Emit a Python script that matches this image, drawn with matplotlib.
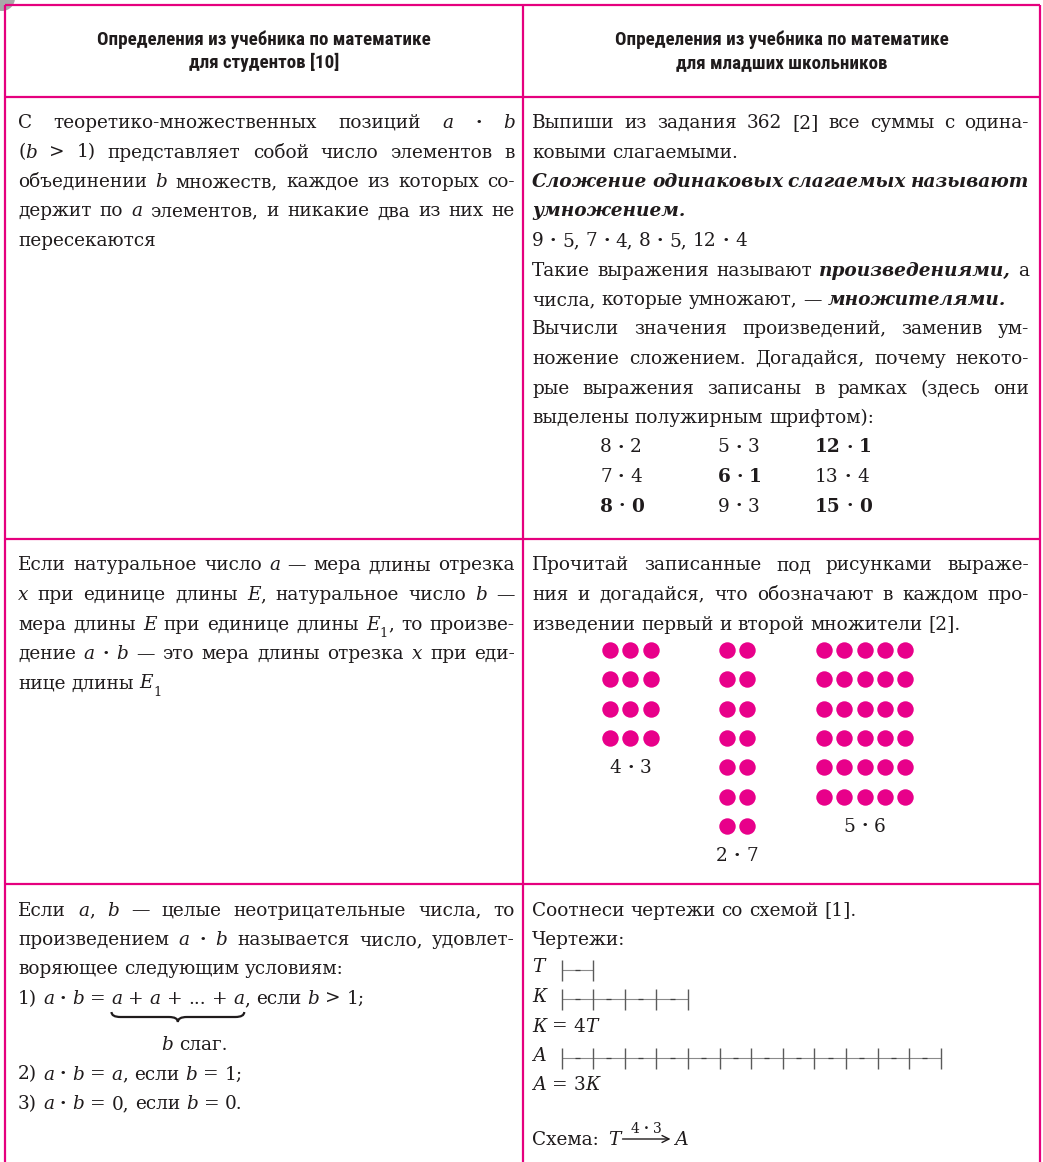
import re
import numpy as np
import matplotlib
matplotlib.use("Agg")
import matplotlib.pyplot as plt
from matplotlib import font_manager
from matplotlib.patches import Circle, PathPatch
from matplotlib.path import Path

# --- СОДЕРЖИМОЕ ТАБЛИЦЫ ---
header_left = ["Определения из учебника по математике", "для студентов [10]"]
header_right = ["Определения из учебника по математике", "для младших школьников"]

# строки: (текст с разметкой, выключка по ширине)
# {i:..} курсив, {bi:..} полужирный курсив, {b:..} полужирный, {s:..} нижний индекс
left_r1 = [
    ("С теоретико-множественных позиций {i:a} · {i:b}", True),
    ("({i:b} > 1) представляет собой число элементов в", True),
    ("объединении {i:b} множеств, каждое из которых со-", True),
    ("держит по {i:a} элементов, и никакие два из них не", True),
    ("пересекаются", False),
]
right_r1 = [
    ("Выпиши из задания 362 [2] все суммы с одина-", True),
    ("ковыми слагаемыми.", False),
    ("{bi:Сложение одинаковых слагаемых называют}", True),
    ("{bi:умножением.}", False),
    ("9 · 5, 7 · 4, 8 · 5, 12 · 4", False),
    ("Такие выражения называют {bi:произведениями,} а", True),
    ("числа, которые умножают, — {bi:множителями.}", False),
    ("Вычисли значения произведений, заменив ум-", True),
    ("ножение сложением. Догадайся, почему некото-", True),
    ("рые выражения записаны в рамках (здесь они", True),
    ("выделены полужирным шрифтом):", False),
]
products = [["8 · 2", "5 · 3", "12 · 1"],
            ["7 · 4", "6 · 1", "13 · 4"],
            ["8 · 0", "9 · 3", "15 · 0"]]
products_bold = [[False, False, True],
                 [False, True, False],
                 [True, False, True]]

left_r2 = [
    ("Если натуральное число {i:a} — мера длины отрезка", True),
    ("{i:x} при единице длины {i:E}, натуральное число {i:b} —", True),
    ("мера длины {i:E} при единице длины {i:E}{s:1}, то произве-", True),
    ("дение {i:a} · {i:b} — это мера длины отрезка {i:x} при еди-", True),
    ("нице длины {i:E}{s:1}", False),
]
right_r2 = [
    ("Прочитай записанные под рисунками выраже-", True),
    ("ния и догадайся, что обозначают в каждом про-", True),
    ("изведении первый и второй множители [2].", False),
]
dot_rows = [4, 7, 6]
dot_cols = [3, 2, 5]
dot_labels = ["4 · 3", "2 · 7", "5 · 6"]

left_r3 = [
    ("Если {i:a}, {i:b} — целые неотрицательные числа, то", True),
    ("произведением {i:a} · {i:b} называется число, удовлет-", True),
    ("воряющее следующим условиям:", False),
    ("1) {i:a} · {i:b} = {i:a} + {i:a} + ... + {i:a}, если {i:b} > 1;", False),
]
brace_label = "{i:b} слаг."
left_r3_tail = [
    "2) {i:a} · {i:b} = {i:a}, если {i:b} = 1;",
    "3) {i:a} · {i:b} = 0, если {i:b} = 0.",
]
right_r3 = ["Соотнеси чертежи со схемой [1].", "Чертежи:"]
seg_names = ["Т", "К", "А"]
seg_units = [1, 4, 12]
seg_relations = [None, "{i:К} = 4{i:Т}", "{i:А} = 3{i:К}"]
scheme_text = ["Схема:", "Т", "4 · 3", "А"]

# --- ОФОРМЛЕНИЕ ---
W, H = 1043, 1162
PINK = "#E5007E"
DOT = "#E8008A"
INK = "#1f1b1c"
SERIF = "DejaVu Serif"

borders_y = [5, 96.5, 539, 884]
col_x = [5, 523, 1040]
LX0, LX1 = 18, 515
RX0, RX1 = 532, 1029
PITCH = 29.5
FIRST = 31.5

fig = plt.figure(figsize=(W / 100, H / 100), dpi=100)
ax = fig.add_axes([0, 0, 1, 1])
ax.set_xlim(0, W)
ax.set_ylim(H, 0)
ax.axis("off")
renderer = fig.canvas.get_renderer()

STYLES = {
    "r": dict(family=SERIF),
    "i": dict(family=SERIF, style="italic"),
    "b": dict(family=SERIF, weight="bold"),
    "bi": dict(family=SERIF, style="italic", weight="bold"),
    "s": dict(family=SERIF),
}

_cache = {}


def text_width(s, size, **kw):
    key = (s, size, tuple(sorted(kw.items())))
    if key not in _cache:
        t = ax.text(0, 0, s, fontsize=size, **kw)
        _cache[key] = t.get_window_extent(renderer).width
        t.remove()
    return _cache[key]


def piece_size(st, size):
    return size * 0.7 if st == "s" else size


def style_kw(t, st):
    kw = dict(STYLES[st])
    if t == "·":  # знак умножения в книге — жирная точка
        kw["weight"] = "bold"
    return kw


def piece_width(t, st, size):
    return text_width(t, piece_size(st, size), **style_kw(t, st))


def space_width(size):
    return text_width("н н", size, family=SERIF) - text_width("нн", size, family=SERIF)


def put(t, st, x, y, size):
    dy = 0.38 * size * 100 / 72 if st == "s" else 0
    ax.text(x, y + dy, t, fontsize=piece_size(st, size), ha="left", va="baseline",
            color=INK, clip_on=False, **style_kw(t, st))


def parse(markup):
    runs = []
    for m in re.finditer(r"\{(\w+):([^}]*)\}|([^{]+)", markup):
        if m.group(1):
            runs.append((m.group(2), m.group(1)))
        else:
            runs.append((m.group(3), "r"))
    words = [[]]
    for txt, st in runs:
        for k, part in enumerate(txt.split(" ")):
            if k > 0:
                words.append([])
            if part:
                words[-1].append((part, st))
    return [w for w in words if w]


def markup_width(markup, size):
    words = parse(markup)
    total = sum(piece_width(t, st, size) for w in words for t, st in w)
    return total + (len(words) - 1) * space_width(size)


def draw_line(markup, x0, x1, y, justify=False, size=None):
    size = size or BODY
    words = parse(markup)
    widths = [[piece_width(t, st, size) for t, st in w] for w in words]
    total = sum(sum(ws) for ws in widths)
    sp = space_width(size)
    n = len(words)
    gap = sp
    if justify and n > 1:
        gap = (x1 - x0 - total) / (n - 1)
    # если строка не влезает — немного уменьшаем кегль
    if n > 1 and justify and gap < 0.45 * sp:
        k = (x1 - x0) / (total + (n - 1) * 0.5 * sp)
        return draw_line(markup, x0, x1, y, justify, size * k)
    x = x0
    ext = []
    for w, ws in zip(words, widths):
        pieces = []
        for (t, st), wd in zip(w, ws):
            put(t, st, x, y, size)
            pieces.append((x, x + wd))
            x += wd
        ext.append(pieces)
        x += gap
    return ext


def draw_centered(markup, cx, y, size=None):
    size = size or BODY
    draw_line(markup, cx - markup_width(markup, size) / 2, W, y, False, size)


def draw_block(lines, x0, x1, y0):
    out = []
    for k, (markup, just) in enumerate(lines):
        out.append(draw_line(markup, x0, x1, y0 + k * PITCH, just))
    return out


# кегль основного текста подбираем по ширине слова «пересекаются»
BODY = 13.0 * 138 / text_width("пересекаются", 13.0, family=SERIF)

# шрифт заголовка — узкий гротеск, если есть
available = {f.name for f in font_manager.fontManager.ttflist}
HEAD = "DejaVu Sans"
for cand in ["Liberation Sans Narrow", "Roboto Condensed", "Open Sans Condensed", "Roboto"]:
    if cand in available:
        HEAD = cand
        break
HEAD_SIZE = 10 * 332 / text_width(header_left[0], 10, family=HEAD, weight="bold")

# --- СЕТКА ТАБЛИЦЫ ---
ax.add_patch(Circle((2, -2), 13, facecolor="#a8a8a8", edgecolor="none", zorder=0))
ax.hlines(borders_y, col_x[0], col_x[-1], color=PINK, lw=1.6, zorder=3)
ax.vlines(col_x, borders_y[0], H, color=PINK, lw=1.6, zorder=3)

# --- ЗАГОЛОВКИ ---
for cx, lines in [((col_x[0] + col_x[1]) / 2, header_left),
                  ((col_x[1] + col_x[2]) / 2, header_right)]:
    for k, s in enumerate(lines):
        ax.text(cx, 45 + k * 23, s, fontsize=HEAD_SIZE, family=HEAD, weight="bold",
                ha="center", va="baseline", color=INK)

# --- СТРОКА 1 ---
y1 = borders_y[1] + FIRST
draw_block(left_r1, LX0, LX1, y1)
draw_block(right_r1, RX0, RX1, y1)
prod_x = [600, 717.5, 815]
for r, (row, bold) in enumerate(zip(products, products_bold)):
    yy = y1 + (len(right_r1) + r) * PITCH
    for c, (s, b) in enumerate(zip(row, bold)):
        cell = " ".join("{b:%s}" % p for p in s.split()) if b else s
        draw_line(cell, prod_x[c], RX1, yy)

# --- СТРОКА 2 ---
y2 = borders_y[2] + FIRST
draw_block(left_r2, LX0, LX1, y2)
draw_block(right_r2, RX0, RX1, y2)
group_x = [610, 727, 824]
dot_dx, dot_dy = 20.3, 29.3
dots_top = y2 + len(right_r2) * PITCH - 9
for gx, nr, nc, lab in zip(group_x, dot_rows, dot_cols, dot_labels):
    xs, ys = np.meshgrid(gx + dot_dx * np.arange(nc), dots_top + dot_dy * np.arange(nr))
    ax.scatter(xs.ravel(), ys.ravel(), s=140, color=DOT, linewidths=0, zorder=2)
    draw_centered(lab, gx + dot_dx * (nc - 1) / 2, dots_top + dot_dy * (nr - 1) + 35)

# --- СТРОКА 3 ---
y3 = borders_y[3] + FIRST
ext = draw_block(left_r3, LX0, LX1, y3)
last = ext[-1]
bx0 = last[5][0][0]
bx1 = last[11][0][1]
by = y3 + 3 * PITCH
yt, ym, yb, rr = by + 8, by + 13, by + 18, 9
bc = (bx0 + bx1) / 2
verts = [(bx0, yt), (bx0, ym), (bx0 + rr, ym), (bc - rr, ym), (bc, ym), (bc, yb),
         (bc, ym), (bc + rr, ym), (bx1 - rr, ym), (bx1, ym), (bx1, yt)]
codes = [Path.MOVETO, Path.CURVE3, Path.CURVE3, Path.LINETO, Path.CURVE3, Path.CURVE3,
         Path.CURVE3, Path.CURVE3, Path.LINETO, Path.CURVE3, Path.CURVE3]
ax.add_patch(PathPatch(Path(verts, codes), fill=False, edgecolor=INK, lw=1.6))
draw_line(brace_label, bc - 17, LX1, by + 46)
for k, s in enumerate(left_r3_tail):
    draw_line(s, LX0, LX1, by + 46 + (k + 1) * PITCH)

for k, s in enumerate(right_r3):
    draw_line(s, RX0, RX1, y3 + k * PITCH)
seg_x0, unit = 561.5, 31.6
yy = y3 + len(right_r3) * PITCH - 2
for name, n_units, rel in zip(seg_names, seg_units, seg_relations):
    put(name, "i", RX0, yy, BODY)
    xs = seg_x0 + unit * np.arange(n_units + 1)
    mids = (xs[:-1] + xs[1:]) / 2
    ax.hlines(yy - 3, xs[0], xs[-1], color="#8a8a8a", lw=0.8)
    ax.hlines(np.full_like(mids, yy - 3), mids - 2.5, mids + 2.5, color="#404040", lw=0.9)
    ax.vlines(xs, yy - 13, yy + 8, color="#5a5a5a", lw=1.0)
    yy += PITCH
    if rel:
        draw_line(rel, RX0, RX1, yy)
        yy += PITCH

ys = 1145
put(scheme_text[0], "r", RX0, ys, BODY)
tx = RX0 + piece_width(scheme_text[0], "r", BODY) + 1.6 * space_width(BODY)
put(scheme_text[1], "i", tx, ys, BODY)
a0 = tx + piece_width(scheme_text[1], "i", BODY) + 2
a1 = a0 + 48
ax.annotate("", xy=(a1, ys - 6), xytext=(a0, ys - 6),
            arrowprops=dict(arrowstyle="->,head_length=0.5,head_width=0.25", lw=1.0,
                            color=INK, shrinkA=0, shrinkB=0))
draw_centered(scheme_text[2], (a0 + a1) / 2, ys - 12, BODY * 0.75)
put(scheme_text[3], "i", a1 + 4, ys, BODY)

fig.savefig("out.png", dpi=100, facecolor="white")
